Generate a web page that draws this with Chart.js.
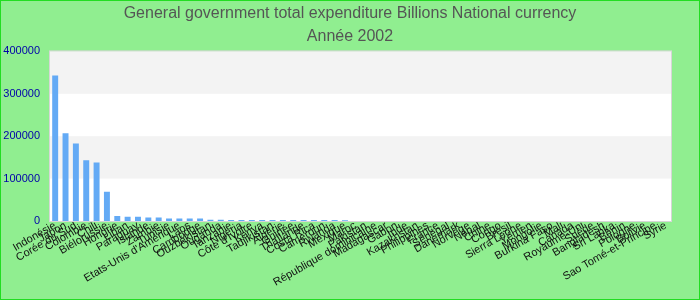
<!DOCTYPE html>
<html>
<head>
<meta charset="utf-8">
<script src="https://cdn.jsdelivr.net/npm/chart.js@4/dist/chart.umd.min.js"></script>
<style>
  html, body { margin: 0; padding: 0; background: #90ee90; }
  #wrap { width: 700px; height: 300px; box-sizing: border-box; border: 1px solid #22dd22; position: relative; background: #90ee90; }
  canvas { display: block; }
</style>
</head>
<body>
<div id="wrap"><canvas id="c" width="698" height="298"></canvas></div>
<script>
const titleText = "General government total expenditure Billions National currency";
const subtitleText = "Année 2002";

const categories = [
  "Indonésie", "Japon", "Corée du Sud", "Colombie", "Chili", "Biélorussie",
  "Hongrie", "Liban", "Paraguay", "Islande", "Zambie", "Tunisie",
  "Etats-Unis d'Amérique", "Laos", "Cambodge", "Ouzbékistan", "Ouganda", "Tanzanie",
  "Nigeria", "Côte d'Ivoire", "Kenya", "Tadjikistan", "Algérie", "Guinée",
  "Thaïlande", "Costa Rica", "Cameroun", "Rwanda", "Mexique", "Maroc",
  "Pakistan", "République dominicaine", "Madagascar", "Gabon", "Inde", "Kazakhstan",
  "Philippines", "France", "Sénégal", "Danemark", "Norvège", "Népal",
  "Chine", "Congo", "Brésil", "Sierra Leone", "Yémen", "Mongolie",
  "Burkina Faso", "Mali", "Canada", "Royaume-Uni", "Suède", "Bangladesh",
  "Sri Lanka", "Bénin", "Pologne", "Bolivie", "Sao Tomé-et-Principe", "Syrie"
];

const expenditure = [
  343000, 207000, 183000, 143000, 138000, 69000,
  12000, 10000, 10000, 8000, 8000, 6000,
  6000, 6000, 6000, 2800, 2700, 2600,
  2600, 2500, 2500, 2400, 2400, 2300,
  2300, 2200, 2200, 2100, 2000, 150,
  140, 130, 120, 110, 100, 95,
  90, 85, 80, 75, 70, 65,
  60, 55, 50, 45, 40, 36,
  32, 28, 25, 22, 19, 16,
  13, 11, 9, 7, 5, 3
];

const yTicks = [0, 100000, 200000, 300000, 400000];

const bandPlugin = {
  id: 'bands',
  beforeDatasetsDraw(chart) {
    const { ctx, chartArea, scales } = chart;
    const y = scales.y;
    ctx.save();
    ctx.fillStyle = '#ffffff';
    ctx.fillRect(chartArea.left, chartArea.top, chartArea.right - chartArea.left, chartArea.bottom - chartArea.top);
    for (let i = 0; i < yTicks.length - 1; i++) {
      if (i % 2 === 1) {
        const yb = y.getPixelForValue(yTicks[i]);
        const yt = y.getPixelForValue(yTicks[i + 1]);
        ctx.fillStyle = '#f3f3f3';
        ctx.fillRect(chartArea.left, yt, chartArea.right - chartArea.left, yb - yt);
      }
    }
    ctx.strokeStyle = '#d6d6d6';
    ctx.lineWidth = 1;
    ctx.strokeRect(chartArea.left - 0.5, chartArea.top - 0.5, chartArea.right - chartArea.left + 1, chartArea.bottom - chartArea.top + 1);
    ctx.restore();
  }
};

const fontFam = "'Liberation Sans', Arial, sans-serif";

new Chart(document.getElementById('c'), {
  type: 'bar',
  data: {
    labels: categories,
    datasets: [{
      data: expenditure,
      backgroundColor: 'rgb(99,170,245)',
      borderWidth: 0,
      categoryPercentage: 0.8,
      barPercentage: 0.72
    }]
  },
  plugins: [bandPlugin],
  options: {
    responsive: false,
    animation: false,
    layout: { padding: 0 },
    plugins: {
      legend: { display: false },
      tooltip: { enabled: false },
      title: {
        display: true, text: titleText, color: '#555555',
        font: { family: fontFam, size: 16, weight: 'normal' },
        padding: { top: 3, bottom: 4 }
      },
      subtitle: {
        display: true, text: subtitleText, color: '#555555',
        font: { family: fontFam, size: 16, weight: 'normal' },
        padding: { top: 0, bottom: 5 }
      }
    },
    scales: {
      x: {
        grid: { display: false, drawTicks: false },
        border: { display: false },
        ticks: {
          autoSkip: false, minRotation: 30, maxRotation: 30, padding: -2,
          color: '#111111',
          font: { family: fontFam, size: 11 }
        },
        afterFit(scale) { scale.height = 78; }
      },
      y: {
        min: 0, max: 400000,
        grid: { display: false, drawTicks: false },
        border: { display: false },
        afterBuildTicks(scale) { scale.ticks = yTicks.map(v => ({ value: v })); },
        ticks: {
          padding: 10, color: '#0000aa',
          font: { family: fontFam, size: 11 },
          callback: v => String(v)
        },
        afterFit(scale) { scale.width = 49; }
      },
      yRight: {
        position: 'right',
        min: 0, max: 400000,
        grid: { display: false, drawTicks: false },
        border: { display: false },
        ticks: { display: false },
        afterFit(scale) { scale.width = 28; }
      }
    }
  }
});
</script>
</body>
</html>
